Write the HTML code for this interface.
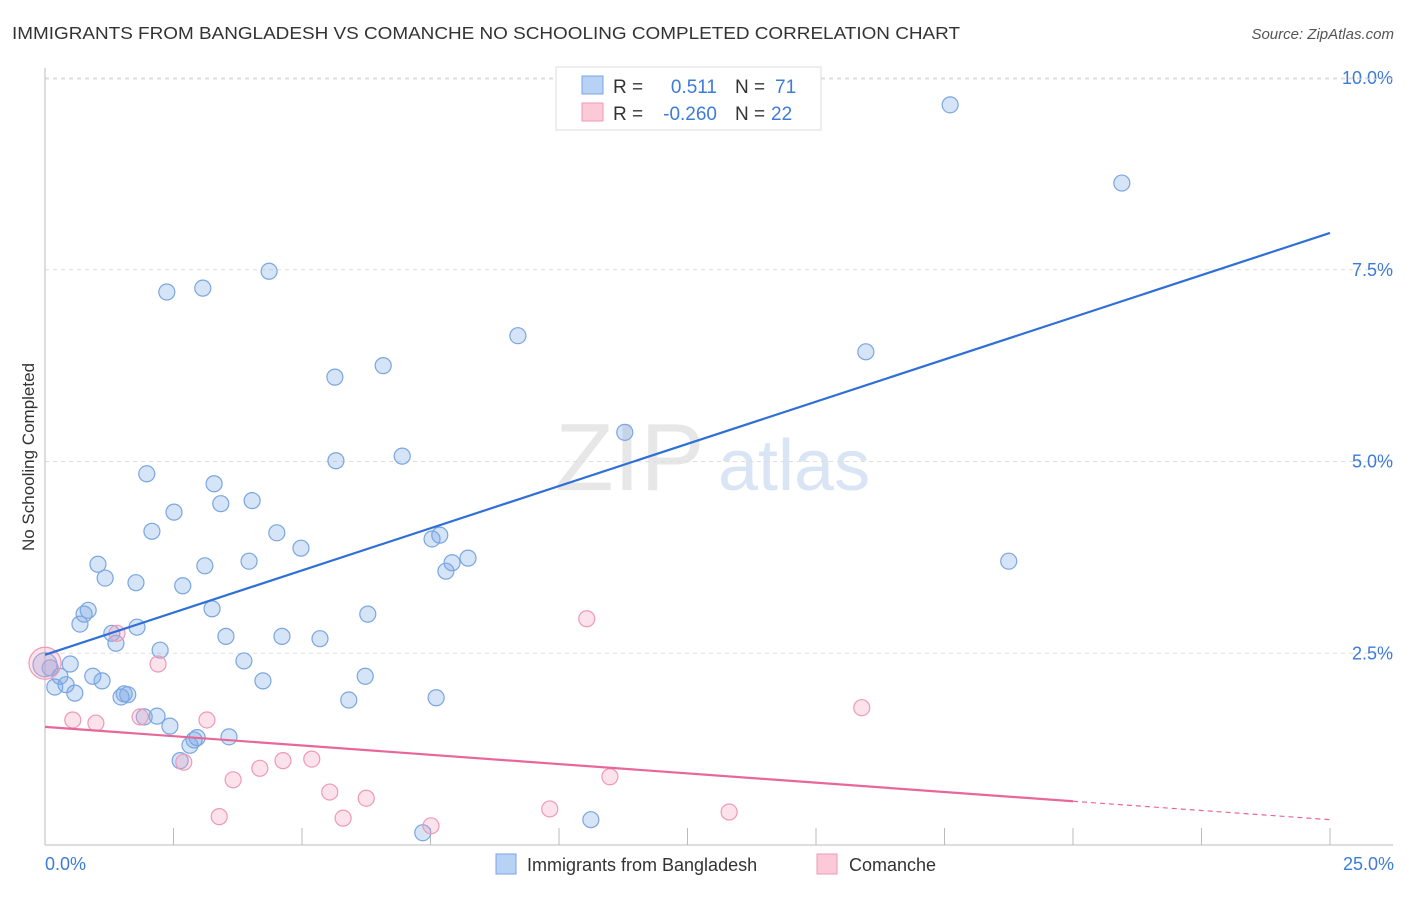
<!DOCTYPE html>
<html><head><meta charset="utf-8"><style>
body{margin:0;background:#fff;font-family:"Liberation Sans",sans-serif;}
svg text{font-family:"Liberation Sans",sans-serif;}
</style></head><body>
<svg id="chart" width="1406" height="892" xmlns="http://www.w3.org/2000/svg">
<text x="12" y="39" font-size="17.5" fill="#333" textLength="948" lengthAdjust="spacingAndGlyphs">IMMIGRANTS FROM BANGLADESH VS COMANCHE NO SCHOOLING COMPLETED CORRELATION CHART</text>
<text x="1394" y="39" font-size="15" fill="#555" font-style="italic" text-anchor="end">Source: ZipAtlas.com</text>
<text x="555" y="490" font-size="96" fill="#ddd" font-family="Liberation Serif" opacity="0.7">ZIP</text>
<text x="718" y="490" font-size="72" fill="#c9d9f0" opacity="0.7">atlas</text>
<g id="grid"></g>
<g id="marks"></g>
<text transform="translate(34,457) rotate(-90)" font-size="17" fill="#333" text-anchor="middle">No Schooling Completed</text>
<text x="45" y="870" font-size="18" fill="#3d7bd9">0.0%</text>
<text x="1394" y="870" font-size="18" fill="#3d7bd9" text-anchor="end">25.0%</text>
<g>
<rect x="556" y="67" width="265" height="63" fill="#fff" stroke="#ddd"/>
<rect x="582" y="76" width="21" height="18" fill="#b8d2f5" stroke="#7aa6e0"/>
<rect x="582" y="103" width="21" height="18" fill="#fcc9d8" stroke="#ee9ab3"/>
<text x="613" y="93" font-size="19" fill="#333">R =</text>
<text x="717" y="93" font-size="19" fill="#3d7bd9" text-anchor="end">0.511</text>
<text x="735" y="93" font-size="19" fill="#333">N =</text>
<text x="775" y="93" font-size="19" fill="#3d7bd9">71</text>
<text x="613" y="120" font-size="19" fill="#333">R =</text>
<text x="717" y="120" font-size="19" fill="#3d7bd9" text-anchor="end">-0.260</text>
<text x="735" y="120" font-size="19" fill="#333">N =</text>
<text x="771" y="120" font-size="19" fill="#3d7bd9">22</text>
</g>
<g>
<rect x="496" y="854" width="20" height="20" fill="#b8d2f5" stroke="#7aa6e0"/>
<text x="527" y="871" font-size="18" fill="#333">Immigrants from Bangladesh</text>
<rect x="817" y="854" width="20" height="20" fill="#fcc9d8" stroke="#ee9ab3"/>
<text x="849" y="871" font-size="18" fill="#333">Comanche</text>
</g>
</svg>
<script>
const yTicks=[2.5,5.0,7.5,10.0];
const xTicks=[0,2.5,5,7.5,10,12.5,15,17.5,20,22.5,25];
const blueX=[17.61,20.95,4.36,2.37,3.07,9.20,15.97,6.58,5.64,11.28,6.95,5.66,1.98,3.29,4.03,3.42,2.51,2.08,4.51,7.53,7.68,4.98,1.03,3.11,3.97,8.23,7.92,7.80,18.75,1.17,1.77,2.68,0.84,0.76,3.25,6.28,0.68,1.79,1.30,1.38,3.52,4.61,5.35,2.24,3.87,0.10,0.49,0.29,0.93,1.11,6.23,4.24,0.41,0.19,0.58,1.54,1.61,1.48,5.91,7.61,2.18,1.93,2.43,3.58,2.96,2.82,2.63,10.62,7.35,0.00,2.90];
const blueY=[9.65,8.63,7.48,7.21,7.26,6.64,6.43,6.25,6.10,5.38,5.07,5.01,4.84,4.71,4.49,4.45,4.34,4.09,4.07,3.99,4.04,3.87,3.66,3.64,3.70,3.74,3.68,3.57,3.70,3.48,3.42,3.38,3.06,3.01,3.08,3.01,2.88,2.84,2.76,2.63,2.72,2.72,2.69,2.54,2.40,2.31,2.36,2.20,2.20,2.14,2.20,2.14,2.09,2.06,1.98,1.97,1.96,1.93,1.89,1.92,1.68,1.67,1.55,1.41,1.40,1.30,1.10,0.33,0.16,2.35,1.37];
const pinkX=[0,1.40,2.20,0.54,0.99,1.85,3.15,2.70,3.66,4.18,4.63,5.19,5.54,6.25,3.39,5.80,7.51,9.82,13.31,10.99,10.54,15.89];
const pinkY=[2.37,2.76,2.36,1.63,1.59,1.67,1.63,1.08,0.85,1.00,1.10,1.12,0.69,0.61,0.37,0.35,0.25,0.47,0.43,0.89,2.95,1.79];
const blueLine=[[0,2.48],[25,7.98]];
const pinkLine=[[0,1.54],[20,0.57],[25,0.33]];
const X=v=>45+v*51.4, Y=v=>845-v*76.7;
const NS='http://www.w3.org/2000/svg';
const grid=document.getElementById('grid'), marks=document.getElementById('marks');
function mk(tag,attrs,parent){const e=document.createElementNS(NS,tag);for(const k in attrs)e.setAttribute(k,attrs[k]);parent.appendChild(e);return e;}
yTicks.forEach(t=>{
 const l=mk('line',{x1:45,x2:1393,y1:Y(t),y2:Y(t),stroke:'#ddd','stroke-dasharray':'4,4'},grid);
 
 
 const tx=mk('text',{x:1393,y:Y(t)+6,'font-size':18,fill:'#3d7bd9','text-anchor':'end'},grid);
 tx.textContent=t.toFixed(1)+'%';
 
 
});
const topGrid=mk('line',{x1:45,x2:1393,y1:79,y2:79,stroke:'#ddd','stroke-dasharray':'4,4'},grid);


const ya=mk('line',{x1:45,x2:45,y1:68,y2:845,stroke:'#bbb'},grid);


const xa=mk('line',{x1:45,x2:1393,y1:845,y2:845,stroke:'#bbb'},grid);


xTicks.forEach(t=>{
 const l=mk('line',{x1:X(t),x2:X(t),y1:828,y2:845,stroke:'#bbb'},grid);
 
 
});
blueX.forEach((v,i)=>{
 const big=(i===blueX.length-2);
 const c=mk('circle',{cx:X(v),cy:Y(blueY[i]),r:big?12:8,fill:'rgba(120,165,230,0.3)',stroke:'#7aa6e0','stroke-width':1.2},marks);
 
 
});
pinkX.forEach((v,i)=>{
 const c=mk('circle',{cx:X(v),cy:Y(pinkY[i]),r:i===0?16:8,fill:'rgba(245,160,190,0.3)',stroke:'#ee9ab3','stroke-width':1.2},marks);
 
 
});
const bl=mk('line',{x1:X(blueLine[0][0]),y1:Y(blueLine[0][1]),x2:X(blueLine[1][0]),y2:Y(blueLine[1][1]),stroke:'#2f6fd6','stroke-width':2.2},marks);


const pl=mk('line',{x1:X(pinkLine[0][0]),y1:Y(pinkLine[0][1]),x2:X(pinkLine[1][0]),y2:Y(pinkLine[1][1]),stroke:'#e8679a','stroke-width':2.2},marks);


const pd=mk('line',{x1:X(pinkLine[1][0]),y1:Y(pinkLine[1][1]),x2:X(pinkLine[2][0]),y2:Y(pinkLine[2][1]),stroke:'#e8679a','stroke-width':1.2,'stroke-dasharray':'5,4'},marks);


</script>
</body></html>
